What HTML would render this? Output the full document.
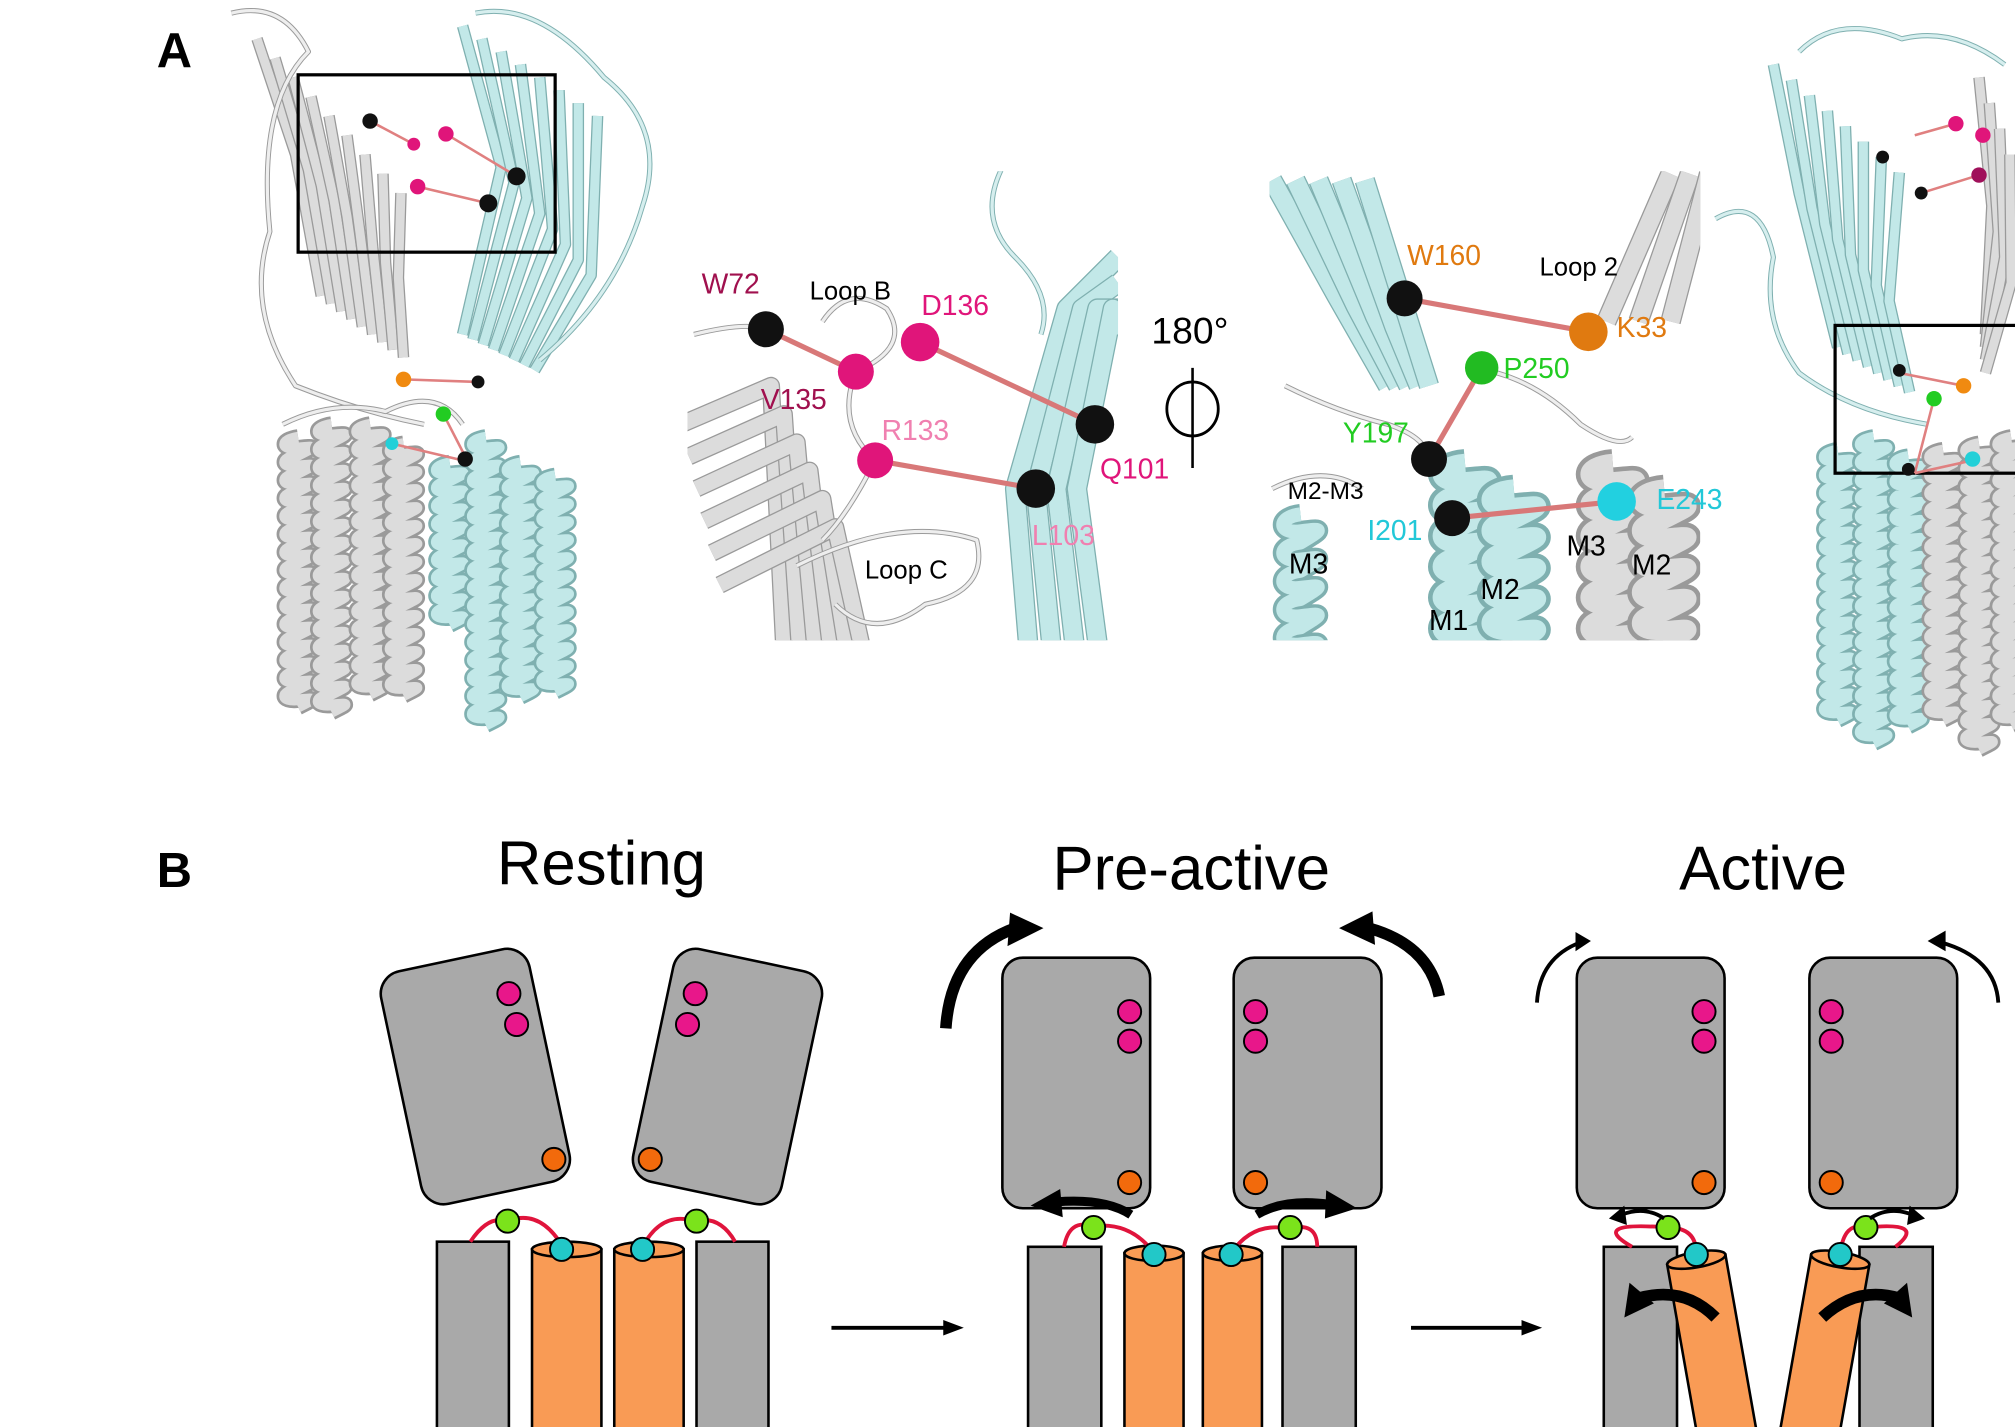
<!DOCTYPE html>
<html><head><meta charset="utf-8">
<style>
html,body{margin:0;padding:0;background:#fff;}
svg{display:block;}
text{font-family:"Liberation Sans",sans-serif;}
</style></head>
<body>
<svg id="s" width="2015" height="1427" viewBox="0 0 1568 1110" xmlns="http://www.w3.org/2000/svg">
<rect width="1568" height="1110" fill="#fff"/>
<g id="prot"></g>

<!-- Panel A labels -->
<text x="122" y="52" font-size="38" font-weight="bold">A</text>

<!-- left protein box -->
<rect x="232" y="58" width="200" height="138" fill="none" stroke="#000" stroke-width="2.5"/>
<g stroke="#e08080" stroke-width="2">
<line x1="288" y1="94" x2="322" y2="112"/><line x1="347" y1="104" x2="402" y2="137"/><line x1="325" y1="145" x2="380" y2="158"/>
<line x1="314" y1="295" x2="372" y2="297"/><line x1="305" y1="345" x2="360" y2="358"/><line x1="345" y1="322" x2="362" y2="355"/>
</g>
<circle cx="288" cy="94" r="6" fill="#111"/><circle cx="322" cy="112" r="5" fill="#e0157a"/><circle cx="347" cy="104" r="6" fill="#e0157a"/>
<circle cx="402" cy="137" r="7" fill="#111"/><circle cx="325" cy="145" r="6" fill="#e0157a"/><circle cx="380" cy="158" r="7" fill="#111"/>
<circle cx="314" cy="295" r="6" fill="#f08a10"/><circle cx="372" cy="297" r="5" fill="#111"/><circle cx="345" cy="322" r="6" fill="#22cc22"/>
<circle cx="305" cy="345" r="5" fill="#22d0d8"/><circle cx="362" cy="357" r="6" fill="#111"/>

<!-- right protein box -->
<rect x="1428" y="253" width="150" height="115" fill="none" stroke="#000" stroke-width="2.5"/>
<g stroke="#e08080" stroke-width="2">
<line x1="1478" y1="290" x2="1528" y2="300"/><line x1="1505" y1="310" x2="1490" y2="368"/><line x1="1490" y1="368" x2="1535" y2="358"/>
<line x1="1490" y1="105" x2="1522" y2="96"/><line x1="1495" y1="150" x2="1540" y2="136"/>
</g>
<circle cx="1522" cy="96" r="6" fill="#e0157a"/><circle cx="1543" cy="105" r="6" fill="#e0157a"/><circle cx="1540" cy="136" r="6" fill="#a0105a"/>
<circle cx="1495" cy="150" r="5" fill="#111"/><circle cx="1465" cy="122" r="5" fill="#111"/>
<circle cx="1528" cy="300" r="6" fill="#f08a10"/><circle cx="1478" cy="288" r="5" fill="#111"/><circle cx="1505" cy="310" r="6" fill="#22cc22"/>
<circle cx="1535" cy="357" r="6" fill="#22d0d8"/><circle cx="1485" cy="365" r="5" fill="#111"/>

<!-- panel 1 overlay -->
<g stroke="#d87878" stroke-width="4">
<line x1="596" y1="256" x2="666" y2="289"/><line x1="716" y1="266" x2="852" y2="330"/><line x1="681" y1="358" x2="806" y2="380"/>
</g>
<circle cx="596" cy="256" r="14" fill="#111"/><circle cx="666" cy="289" r="14" fill="#e0157a"/><circle cx="716" cy="266" r="15" fill="#e0157a"/>
<circle cx="681" cy="358" r="14" fill="#e0157a"/><circle cx="852" cy="330" r="15" fill="#111"/><circle cx="806" cy="380" r="15" fill="#111"/>
<g font-size="22">
<text x="546" y="228" fill="#a0104e">W72</text>
<text x="630" y="233" fill="#000" font-size="20">Loop B</text>
<text x="717" y="245" fill="#e0157a">D136</text>
<text x="592" y="318" fill="#a0104e">V135</text>
<text x="686" y="342" fill="#f080b0">R133</text>
<text x="856" y="372" fill="#e0157a">Q101</text>
<text x="803" y="424" fill="#f080b0">L103</text>
<text x="673" y="450" fill="#000" font-size="20">Loop C</text>
</g>
<!-- rotation symbol -->
<text x="896" y="267" font-size="29">180°</text>
<line x1="928" y1="286" x2="928" y2="364" stroke="#000" stroke-width="2"/>
<ellipse cx="928" cy="318" rx="20" ry="21" fill="none" stroke="#000" stroke-width="2.2"/>

<!-- panel 2 overlay -->
<g stroke="#d87878" stroke-width="4">
<line x1="1093" y1="232" x2="1236" y2="258"/><line x1="1153" y1="286" x2="1112" y2="357"/><line x1="1130" y1="403" x2="1258" y2="390"/>
</g>
<circle cx="1093" cy="232" r="14" fill="#111"/><circle cx="1236" cy="258" r="15" fill="#e07a10"/><circle cx="1153" cy="286" r="13" fill="#22bb22"/>
<circle cx="1112" cy="357" r="14" fill="#111"/><circle cx="1130" cy="403" r="14" fill="#111"/><circle cx="1258" cy="390" r="15" fill="#22d0e0"/>
<g font-size="22">
<text x="1095" y="206" fill="#e07a10">W160</text>
<text x="1198" y="214" fill="#000" font-size="20">Loop 2</text>
<text x="1258" y="262" fill="#e07a10">K33</text>
<text x="1170" y="294" fill="#22cc22">P250</text>
<text x="1045" y="344" fill="#22cc22">Y197</text>
<text x="1002" y="388" fill="#000" font-size="19">M2-M3</text>
<text x="1064" y="420" fill="#22c8d8">I201</text>
<text x="1289" y="396" fill="#22c8d8">E243</text>
<text x="1003" y="446" fill="#000">M3</text>
<text x="1219" y="432" fill="#000">M3</text>
<text x="1270" y="447" fill="#000">M2</text>
<text x="1152" y="466" fill="#000">M2</text>
<text x="1112" y="490" fill="#000">M1</text>
</g>

<!-- Panel B -->
<text x="122" y="690" font-size="38" font-weight="bold">B</text>
<text x="468" y="688" font-size="48" text-anchor="middle">Resting</text>
<text x="927" y="692" font-size="48" text-anchor="middle">Pre-active</text>
<text x="1372" y="692" font-size="48" text-anchor="middle">Active</text>

<g stroke="#000" stroke-width="2">
<!-- resting -->
<rect x="311" y="745" width="118" height="185" rx="18" fill="#a9a9a9" transform="rotate(-12 370 838)"/>
<rect x="507" y="745" width="118" height="185" rx="18" fill="#a9a9a9" transform="rotate(12 566 838)"/>
<rect x="340" y="966" width="56" height="150" fill="#a9a9a9"/>
<rect x="542" y="966" width="56" height="150" fill="#a9a9a9"/>
<rect x="414" y="972" width="54" height="150" fill="#f99b55"/><ellipse cx="441" cy="972" rx="27" ry="6" fill="#f99b55"/>
<rect x="478" y="972" width="54" height="150" fill="#f99b55"/><ellipse cx="505" cy="972" rx="27" ry="6" fill="#f99b55"/>
<!-- pre-active -->
<rect x="780" y="745" width="115" height="195" rx="16" fill="#a9a9a9"/>
<rect x="960" y="745" width="115" height="195" rx="16" fill="#a9a9a9"/>
<rect x="800" y="970" width="57" height="150" fill="#a9a9a9"/>
<rect x="998" y="970" width="57" height="150" fill="#a9a9a9"/>
<rect x="875" y="975" width="46" height="150" fill="#f99b55"/><ellipse cx="898" cy="975" rx="23" ry="6" fill="#f99b55"/>
<rect x="936" y="975" width="46" height="150" fill="#f99b55"/><ellipse cx="959" cy="975" rx="23" ry="6" fill="#f99b55"/>
<!-- active -->
<rect x="1227" y="745" width="115" height="195" rx="16" fill="#a9a9a9"/>
<rect x="1408" y="745" width="115" height="195" rx="16" fill="#a9a9a9"/>
<rect x="1248" y="970" width="57" height="150" fill="#a9a9a9"/>
<rect x="1447" y="970" width="57" height="150" fill="#a9a9a9"/>
<g transform="rotate(-10 1320 980)"><rect x="1297" y="980" width="46" height="170" fill="#f99b55"/><ellipse cx="1320" cy="980" rx="23" ry="6" fill="#f99b55"/></g>
<g transform="rotate(10 1432 980)"><rect x="1409" y="980" width="46" height="170" fill="#f99b55"/><ellipse cx="1432" cy="980" rx="23" ry="6" fill="#f99b55"/></g>
</g>

<!-- loops -->
<g fill="none" stroke="#e0143c" stroke-width="3">
<path d="M366 966 Q380 945 395 950 Q420 940 438 970"/>
<path d="M500 970 Q515 942 540 950 Q560 945 572 966"/>
<path d="M828 970 Q832 948 850 954 Q880 950 898 975"/>
<path d="M958 975 Q975 950 1003 956 Q1025 950 1025 970"/>
<path d="M1270 970 Q1235 950 1298 955 Q1320 955 1320 975"/>
<path d="M1432 975 Q1435 950 1452 955 Q1500 950 1475 970"/>
</g>
<g stroke="#000" stroke-width="1.5">
<circle cx="396" cy="773" r="9" fill="#e8178a"/><circle cx="402" cy="797" r="9" fill="#e8178a"/><circle cx="431" cy="902" r="9" fill="#f26a0c"/>
<circle cx="541" cy="773" r="9" fill="#e8178a"/><circle cx="535" cy="797" r="9" fill="#e8178a"/><circle cx="506" cy="902" r="9" fill="#f26a0c"/>
<circle cx="395" cy="950" r="9" fill="#7be31b"/><circle cx="437" cy="972" r="9" fill="#22c8c8"/>
<circle cx="542" cy="950" r="9" fill="#7be31b"/><circle cx="500" cy="972" r="9" fill="#22c8c8"/>
<circle cx="879" cy="787" r="9" fill="#e8178a"/><circle cx="879" cy="810" r="9" fill="#e8178a"/><circle cx="879" cy="920" r="9" fill="#f26a0c"/>
<circle cx="977" cy="787" r="9" fill="#e8178a"/><circle cx="977" cy="810" r="9" fill="#e8178a"/><circle cx="977" cy="920" r="9" fill="#f26a0c"/>
<circle cx="851" cy="955" r="9" fill="#7be31b"/><circle cx="898" cy="976" r="9" fill="#22c8c8"/>
<circle cx="1004" cy="955" r="9" fill="#7be31b"/><circle cx="958" cy="976" r="9" fill="#22c8c8"/>
<circle cx="1326" cy="787" r="9" fill="#e8178a"/><circle cx="1326" cy="810" r="9" fill="#e8178a"/><circle cx="1326" cy="920" r="9" fill="#f26a0c"/>
<circle cx="1425" cy="787" r="9" fill="#e8178a"/><circle cx="1425" cy="810" r="9" fill="#e8178a"/><circle cx="1425" cy="920" r="9" fill="#f26a0c"/>
<circle cx="1298" cy="955" r="9" fill="#7be31b"/><circle cx="1320" cy="976" r="9" fill="#22c8c8"/>
<circle cx="1452" cy="955" r="9" fill="#7be31b"/><circle cx="1432" cy="976" r="9" fill="#22c8c8"/>
</g>

<!-- arrows -->
<g stroke="#000" stroke-width="3"><line x1="647" y1="1033" x2="738" y2="1033"/><line x1="1098" y1="1033" x2="1188" y2="1033"/></g>
<polygon points="750,1033 734,1027 734,1039"/><polygon points="1200,1033 1184,1027 1184,1039"/>
<g fill="none" stroke="#000" stroke-linecap="butt">
<path d="M736 800 Q740 740 790 722" stroke-width="9"/>
<path d="M1120 775 Q1112 735 1065 722" stroke-width="9"/>
<path d="M1196 780 Q1198 745 1230 733" stroke-width="3"/>
<path d="M1555 780 Q1553 745 1510 733" stroke-width="3"/>
<path d="M880 945 Q860 932 822 935" stroke-width="7"/>
<path d="M978 945 Q1000 932 1035 937" stroke-width="7"/>
<path d="M1295 948 Q1280 938 1262 945" stroke-width="3"/>
<path d="M1455 948 Q1470 938 1488 945" stroke-width="3"/>
<path d="M1335 1025 Q1310 1000 1275 1010" stroke-width="9"/>
<path d="M1418 1025 Q1445 1000 1478 1010" stroke-width="9"/>
</g>
<polygon points="812,722 786,710 784,736"/>
<polygon points="1042,722 1068,709 1070,735"/>
<polygon points="1238,732 1226,725 1226,740"/>
<polygon points="1500,732 1514,724 1514,740"/>
<polygon points="802,938 825,925 827,947"/>
<polygon points="1056,940 1032,926 1031,948"/>
<polygon points="1252,948 1264,938 1266,953"/>
<polygon points="1498,948 1486,938 1484,953"/>
<polygon points="1264,1025 1268,998 1287,1014"/>
<polygon points="1488,1025 1484,998 1466,1014"/>
</svg>
<script>
(function(){
var g=document.getElementById('prot'),NS='http://www.w3.org/2000/svg';
function P(d,stroke,w,fill){var p=document.createElementNS(NS,'path');p.setAttribute('d',d);p.setAttribute('stroke',stroke);p.setAttribute('stroke-width',w);p.setAttribute('fill',fill||'none');p.setAttribute('stroke-linejoin','round');g.appendChild(p);}
var G='#dcdcdc',GE='#9a9a9a',C='#c2e8e8',CE='#7fb0b0';
function helix(x,y1,y2,w,col,edge,step){step=step||14;var d='M'+x+' '+y1;for(var y=y1;y<y2;y+=step){d+=' C'+(x-w)+' '+(y+2)+' '+(x-w)+' '+(y+step*0.7)+' '+x+' '+(y+step*0.6)+' S'+(x+w)+' '+(y+step*0.5)+' '+x+' '+(y+step);}
P(d,edge,w*0.9);P(d,col,w*0.6);}
function strand(pts,col,edge,w){var d='M'+pts.join(' L');P(d,edge,w+2);P(d,col,w);}
function loop(d,col,edge){P(d,edge,4);P(d,col,2.5);}
// Left protein
[[232,340,540],[258,330,545],[288,330,540],[314,345,530]].forEach(function(h){helix(h[0],h[1],h[2],14,G,GE);});
[[350,360,480],[378,340,560],[405,360,540],[432,370,530]].forEach(function(h){helix(h[0],h[1],h[2],14,C,CE);});
for(var i=0;i<9;i++){strand([(200+i*14)+','+(30+i*15),(230+i*10)+','+(120+i*12),(250+i*8)+','+(230+i*6)],G,GE,7);}
for(var i=0;i<8;i++){strand([(360+i*15)+','+(20+i*10),(390+i*10)+','+(130+i*12),(360+i*8)+','+(260+i*4)],C,CE,7);}
loop('M180 10 Q220 0 240 40 Q200 80 210 180 Q190 240 230 300 Q280 320 330 330','#eee',GE);
loop('M370 10 Q420 0 470 60 Q520 100 500 160 Q480 230 420 280','#d6eeee',CE);
loop('M220 330 Q260 310 300 320 Q340 300 360 330','#eee',GE);
// Right protein
[[1430,350,560],[1458,340,575],[1485,355,560]].forEach(function(h){helix(h[0],h[1],h[2],14,C,CE);});
[[1512,350,560],[1540,345,570],[1565,340,560]].forEach(function(h){helix(h[0],h[1],h[2],14,G,GE);});
for(var i=0;i<8;i++){strand([(1380+i*14)+','+(50+i*12),(1400+i*10)+','+(150+i*12),(1430+i*8)+','+(270+i*5)],C,CE,7);}
for(var i=0;i<4;i++){strand([(1540+i*8)+','+(60+i*20),(1550+i*5)+','+(160+i*20),(1545)+','+(260+i*10)],G,GE,7);}
loop('M1335 170 Q1370 150 1380 200 Q1370 250 1400 290 Q1440 320 1500 330','#d6eeee',CE);
loop('M1400 40 Q1430 10 1480 30 Q1520 20 1560 50','#d6eeee',CE);
// Panel 1 (535-870, 133-498)
var s1=document.createElementNS(NS,'clipPath');s1.id='c1';s1.innerHTML='<rect x="535" y="133" width="335" height="365"/>';g.appendChild(s1);
var gg=g;g=document.createElementNS(NS,'g');g.setAttribute('clip-path','url(#c1)');gg.appendChild(g);
for(var i=0;i<6;i++){strand([(530+i*6)+','+(330+i*25),(600+i*10)+','+(300+i*22),(610+i*12)+','+(500)],G,GE,12);}
for(var i=0;i<4;i++){strand([(800+i*18)+','+(500),(790+i*16)+','+(380),(830+i*12)+','+(240),(870)+','+(200+i*20)],C,CE,14);}
loop('M780 130 Q760 170 790 200 Q820 230 810 260','#d6eeee',CE);
loop('M540 260 Q580 250 596 256 M640 250 Q660 220 690 240 Q710 270 666 289 Q650 330 681 358 Q660 400 640 420 M620 440 Q700 400 760 420 Q770 460 720 470 Q680 500 650 470','#eee',GE);
g=gg;
// Panel 2 (988-1323, 133-498)
var s2=document.createElementNS(NS,'clipPath');s2.id='c2';s2.innerHTML='<rect x="988" y="133" width="335" height="365"/>';g.appendChild(s2);
g=document.createElementNS(NS,'g');g.setAttribute('clip-path','url(#c2)');gg.appendChild(g);
for(var i=0;i<5;i++){strand([(990+i*18)+','+(140),(1040+i*15)+','+(230+i*8),(1080+i*8)+','+(300)],C,CE,14);}
for(var i=0;i<3;i++){strand([(1250+i*25)+','+(250),(1300+i*15)+','+(135)],G,GE,14);}
helix(1012,400,500,18,C,CE,22);helix(1140,360,500,24,C,CE,24);helix(1178,380,500,24,C,CE,24);
helix(1255,360,500,24,G,GE,24);helix(1295,380,500,24,G,GE,24);
loop('M1000 300 Q1040 320 1080 330 Q1110 340 1112 357 M1165 290 Q1200 300 1230 330 Q1260 350 1270 340 M990 380 Q1030 360 1060 380','#eee',GE);
g=gg;
})();
</script>
</body></html>
